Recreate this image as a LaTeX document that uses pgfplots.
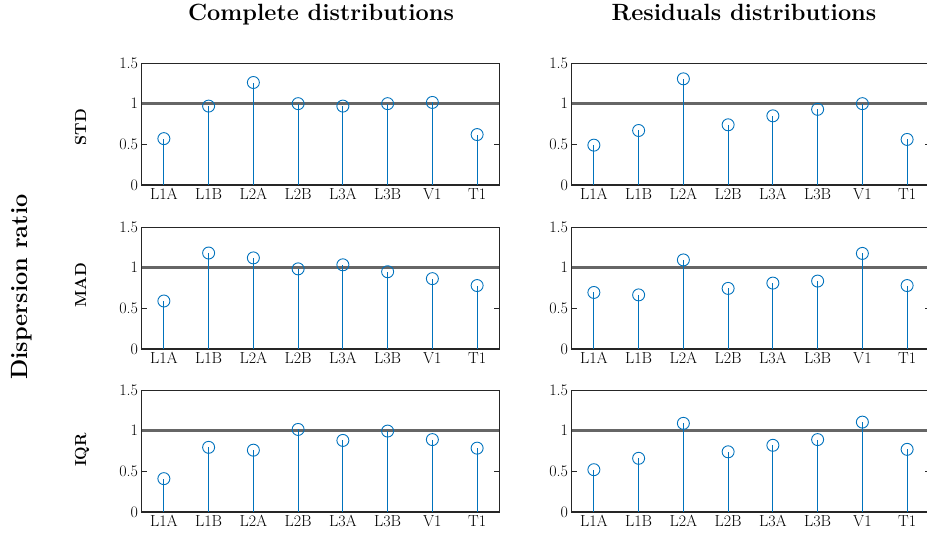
\documentclass[border=0pt]{standalone}
\usepackage{pgfplots}
\pgfplotsset{compat=1.18}
\definecolor{mblue}{rgb}{0,0.447,0.741}
\definecolor{axgray}{gray}{0.15}
\definecolor{refgray}{gray}{0.4}
\pgfplotsset{
  stemax/.style={
    width=358pt, height=122pt, scale only axis,
    anchor=south west,
    xmin=0.5, xmax=8.5, ymin=0, ymax=1.5,
    xtick={1,2,3,4,5,6,7,8},
    xticklabels={L1A,L1B,L2A,L2B,L3A,L3B,V1,T1},
    ytick={0,0.5,1,1.5}, yticklabels={0,0.5,1,1.5},
    tick align=inside, ytick pos=both,
    major tick length=5pt,
    x tick style={draw=none},
    y tick style={axgray, line width=0.6pt},
    tick label style={font=\fontsize{16}{18}\selectfont},
    axis line style={axgray, line width=0.7pt},
  },
  refline/.style={refgray, line width=3.5pt, forget plot},
  baseline/.style={axgray, line width=1.8pt, forget plot},
  stems/.style={mblue, line width=0.9pt, ycomb, mark=o, mark size=6pt,
    mark options={line width=0.9pt, fill=none}},
}
\begin{document}
\begin{tikzpicture}[x=1pt,y=1pt]
% Row 1: STD
\begin{axis}[stemax, at={(141.5pt,352pt)}]
\addplot[refline] coordinates {(0.5,1) (8.5,1)};
\addplot[baseline] coordinates {(0.5,0) (8.5,0)};
\addplot[stems] coordinates {(1,0.57) (2,0.97) (3,1.26) (4,1.00) (5,0.97) (6,1.00) (7,1.015) (8,0.62)};
\end{axis}
\begin{axis}[stemax, at={(571.5pt,352pt)}]
\addplot[refline] coordinates {(0.5,1) (8.5,1)};
\addplot[baseline] coordinates {(0.5,0) (8.5,0)};
\addplot[stems] coordinates {(1,0.49) (2,0.67) (3,1.305) (4,0.74) (5,0.85) (6,0.93) (7,1.00) (8,0.56)};
\end{axis}
% Row 2: MAD
\begin{axis}[stemax, at={(141.5pt,188pt)}]
\addplot[refline] coordinates {(0.5,1) (8.5,1)};
\addplot[baseline] coordinates {(0.5,0) (8.5,0)};
\addplot[stems] coordinates {(1,0.59) (2,1.18) (3,1.12) (4,0.985) (5,1.035) (6,0.95) (7,0.865) (8,0.78)};
\end{axis}
\begin{axis}[stemax, at={(571.5pt,188pt)}]
\addplot[refline] coordinates {(0.5,1) (8.5,1)};
\addplot[baseline] coordinates {(0.5,0) (8.5,0)};
\addplot[stems] coordinates {(1,0.695) (2,0.665) (3,1.095) (4,0.745) (5,0.81) (6,0.835) (7,1.175) (8,0.78)};
\end{axis}
% Row 3: IQR
\begin{axis}[stemax, at={(141.5pt,25pt)}]
\addplot[refline] coordinates {(0.5,1) (8.5,1)};
\addplot[baseline] coordinates {(0.5,0) (8.5,0)};
\addplot[stems] coordinates {(1,0.41) (2,0.795) (3,0.76) (4,1.015) (5,0.88) (6,0.995) (7,0.89) (8,0.785)};
\end{axis}
\begin{axis}[stemax, at={(571.5pt,25pt)}]
\addplot[refline] coordinates {(0.5,1) (8.5,1)};
\addplot[baseline] coordinates {(0.5,0) (8.5,0)};
\addplot[stems] coordinates {(1,0.52) (2,0.66) (3,1.09) (4,0.74) (5,0.82) (6,0.89) (7,1.105) (8,0.77)};
\end{axis}
% titles and labels
\node[anchor=base, font=\bfseries\fontsize{23.5}{28}\selectfont] at (321,516) {Complete distributions};
\node[anchor=base, font=\bfseries\fontsize{23.5}{28}\selectfont] at (744,516) {Residuals distributions};
\node[rotate=90, anchor=base, font=\bfseries\fontsize{16}{19}\selectfont] at (86,410) {STD};
\node[rotate=90, anchor=base, font=\bfseries\fontsize{16}{19}\selectfont] at (86,252) {MAD};
\node[rotate=90, anchor=base, font=\bfseries\fontsize{16}{19}\selectfont] at (86,87) {IQR};
\node[rotate=90, anchor=base, font=\bfseries\fontsize{23.5}{28}\selectfont] at (27,250) {Dispersion ratio};
\pgfresetboundingbox
\path (0,0) rectangle (927,537);
\end{tikzpicture}
\end{document}
